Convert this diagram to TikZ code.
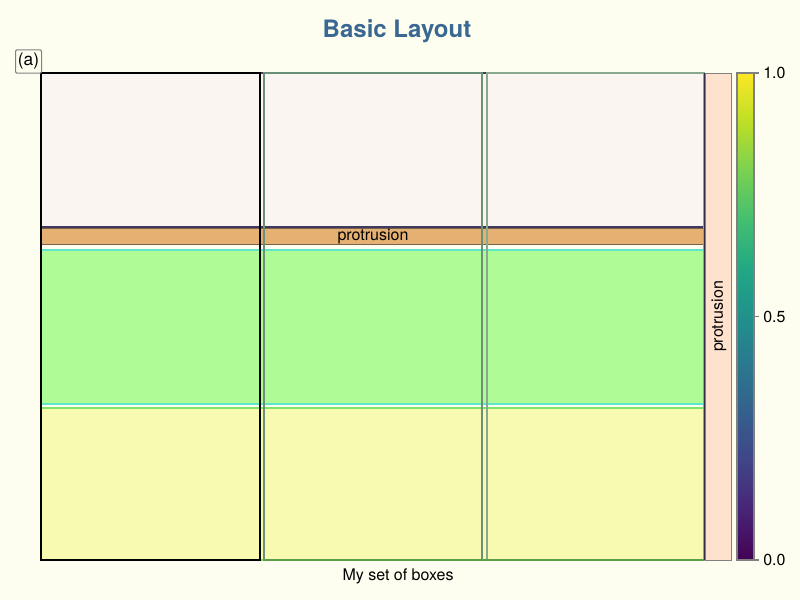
\documentclass[tikz,border=0pt]{standalone}
\usepackage{fontspec}
\setmainfont{TeX Gyre Heros}
\definecolor{bgivory}{HTML}{FEFEF0}
\definecolor{linenfill}{HTML}{FAF5F0}
\definecolor{rowline}{HTML}{3F3A5E}
\definecolor{barfill}{HTML}{E4B172}
\definecolor{barline}{HTML}{7A6248}
\definecolor{greenfill}{HTML}{AFFC96}
\definecolor{greenline}{HTML}{5EE6CC}
\definecolor{yellowfill}{HTML}{F8FAB2}
\definecolor{yellowline}{HTML}{7EE466}
\definecolor{colgray}{HTML}{6A9078}
\definecolor{colgraytwo}{HTML}{8AA88E}
\definecolor{peachfill}{HTML}{FFE2CE}
\definecolor{titleblue}{HTML}{3A6892}
\definecolor{vir0}{HTML}{440154}
\definecolor{vir1}{HTML}{482475}
\definecolor{vir2}{HTML}{414487}
\definecolor{vir3}{HTML}{355F8D}
\definecolor{vir4}{HTML}{2A788E}
\definecolor{vir5}{HTML}{21918C}
\definecolor{vir6}{HTML}{22A884}
\definecolor{vir7}{HTML}{44BF70}
\definecolor{vir8}{HTML}{7AD151}
\definecolor{vir9}{HTML}{BDDF26}
\definecolor{vir10}{HTML}{FDE725}
\pgfdeclareverticalshading{viridis}{100bp}{color(0bp)=(vir0); color(25bp)=(vir0); color(30bp)=(vir1); color(35bp)=(vir2); color(40bp)=(vir3); color(45bp)=(vir4); color(50bp)=(vir5); color(55bp)=(vir6); color(60bp)=(vir7); color(65bp)=(vir8); color(70bp)=(vir9); color(75bp)=(vir10); color(100bp)=(vir10)}
\tikzset{
  txt/.style={inner sep=0pt, font=\fontsize{12pt}{14pt}\selectfont},
  ticklbl/.style={txt, anchor=west},
}
\begin{document}
\begin{tikzpicture}[x=0.75pt, y=-0.75pt]
\fill[bgivory] (0,0) rectangle (800,600);
\node[font=\fontsize{18pt}{20pt}\selectfont\bfseries, text=titleblue] (title) at (397,31){Basic Layout};
\filldraw[fill=linenfill, draw=rowline, line width=1.2pt] (41,73) rectangle (704,227);
\filldraw[fill=barfill, draw=barline, line width=0.75pt] (41,228) rectangle (704,244);
\filldraw[fill=greenfill, draw=greenline, line width=1.5pt] (41,249.5) rectangle (704,403.5);
\filldraw[fill=yellowfill, draw=yellowline, line width=1.5pt] (41,407.5) rectangle (704,560);
\node[txt] (barlbl) at (373,237){protrusion};
\draw[black, line width=1.5pt] (41,73) rectangle (260,560);
\draw[colgray, line width=1.1pt] (264,73) rectangle (482,560);
\draw[colgraytwo, line width=1.1pt] (487,73) rectangle (704,560);
\draw[yellowline!70!black, line width=1.1pt] (264,560) -- (704,560);
\filldraw[fill=peachfill, draw=gray, line width=0.75pt] (705.5,73) rectangle (731.5,560);
\draw[rowline!80!black, line width=1.1pt] (704.5,73) -- (704.5,560);
\node[txt, rotate=90] (sidelbl) at (719,316.5){protrusion};
\shade[shading=viridis] (737,73) rectangle (754,560);
\draw[gray, line width=0.9pt] (737,73) rectangle (754,560);
\draw[gray, line width=0.9pt] (754,73) -- (759,73);
\draw[gray, line width=0.9pt] (754,316.5) -- (759,316.5);
\draw[gray, line width=0.9pt] (754,560) -- (759,560);
\node[ticklbl] (t1) at (763,73){1.0};
\node[ticklbl] (t05) at (763,316.5){0.5};
\node[ticklbl] (t0) at (763,560){0.0};
\node[txt] (xlbl) at (398,576){My set of boxes};
\node[draw=gray, line width=0.75pt, rounded corners=1pt, fill=bgivory, minimum width=19.5pt, minimum height=17.5pt, inner sep=0pt, font=\fontsize{13pt}{14pt}\selectfont] (panel) at (28.5,61.5){(a)};
\end{tikzpicture}
\end{document}
